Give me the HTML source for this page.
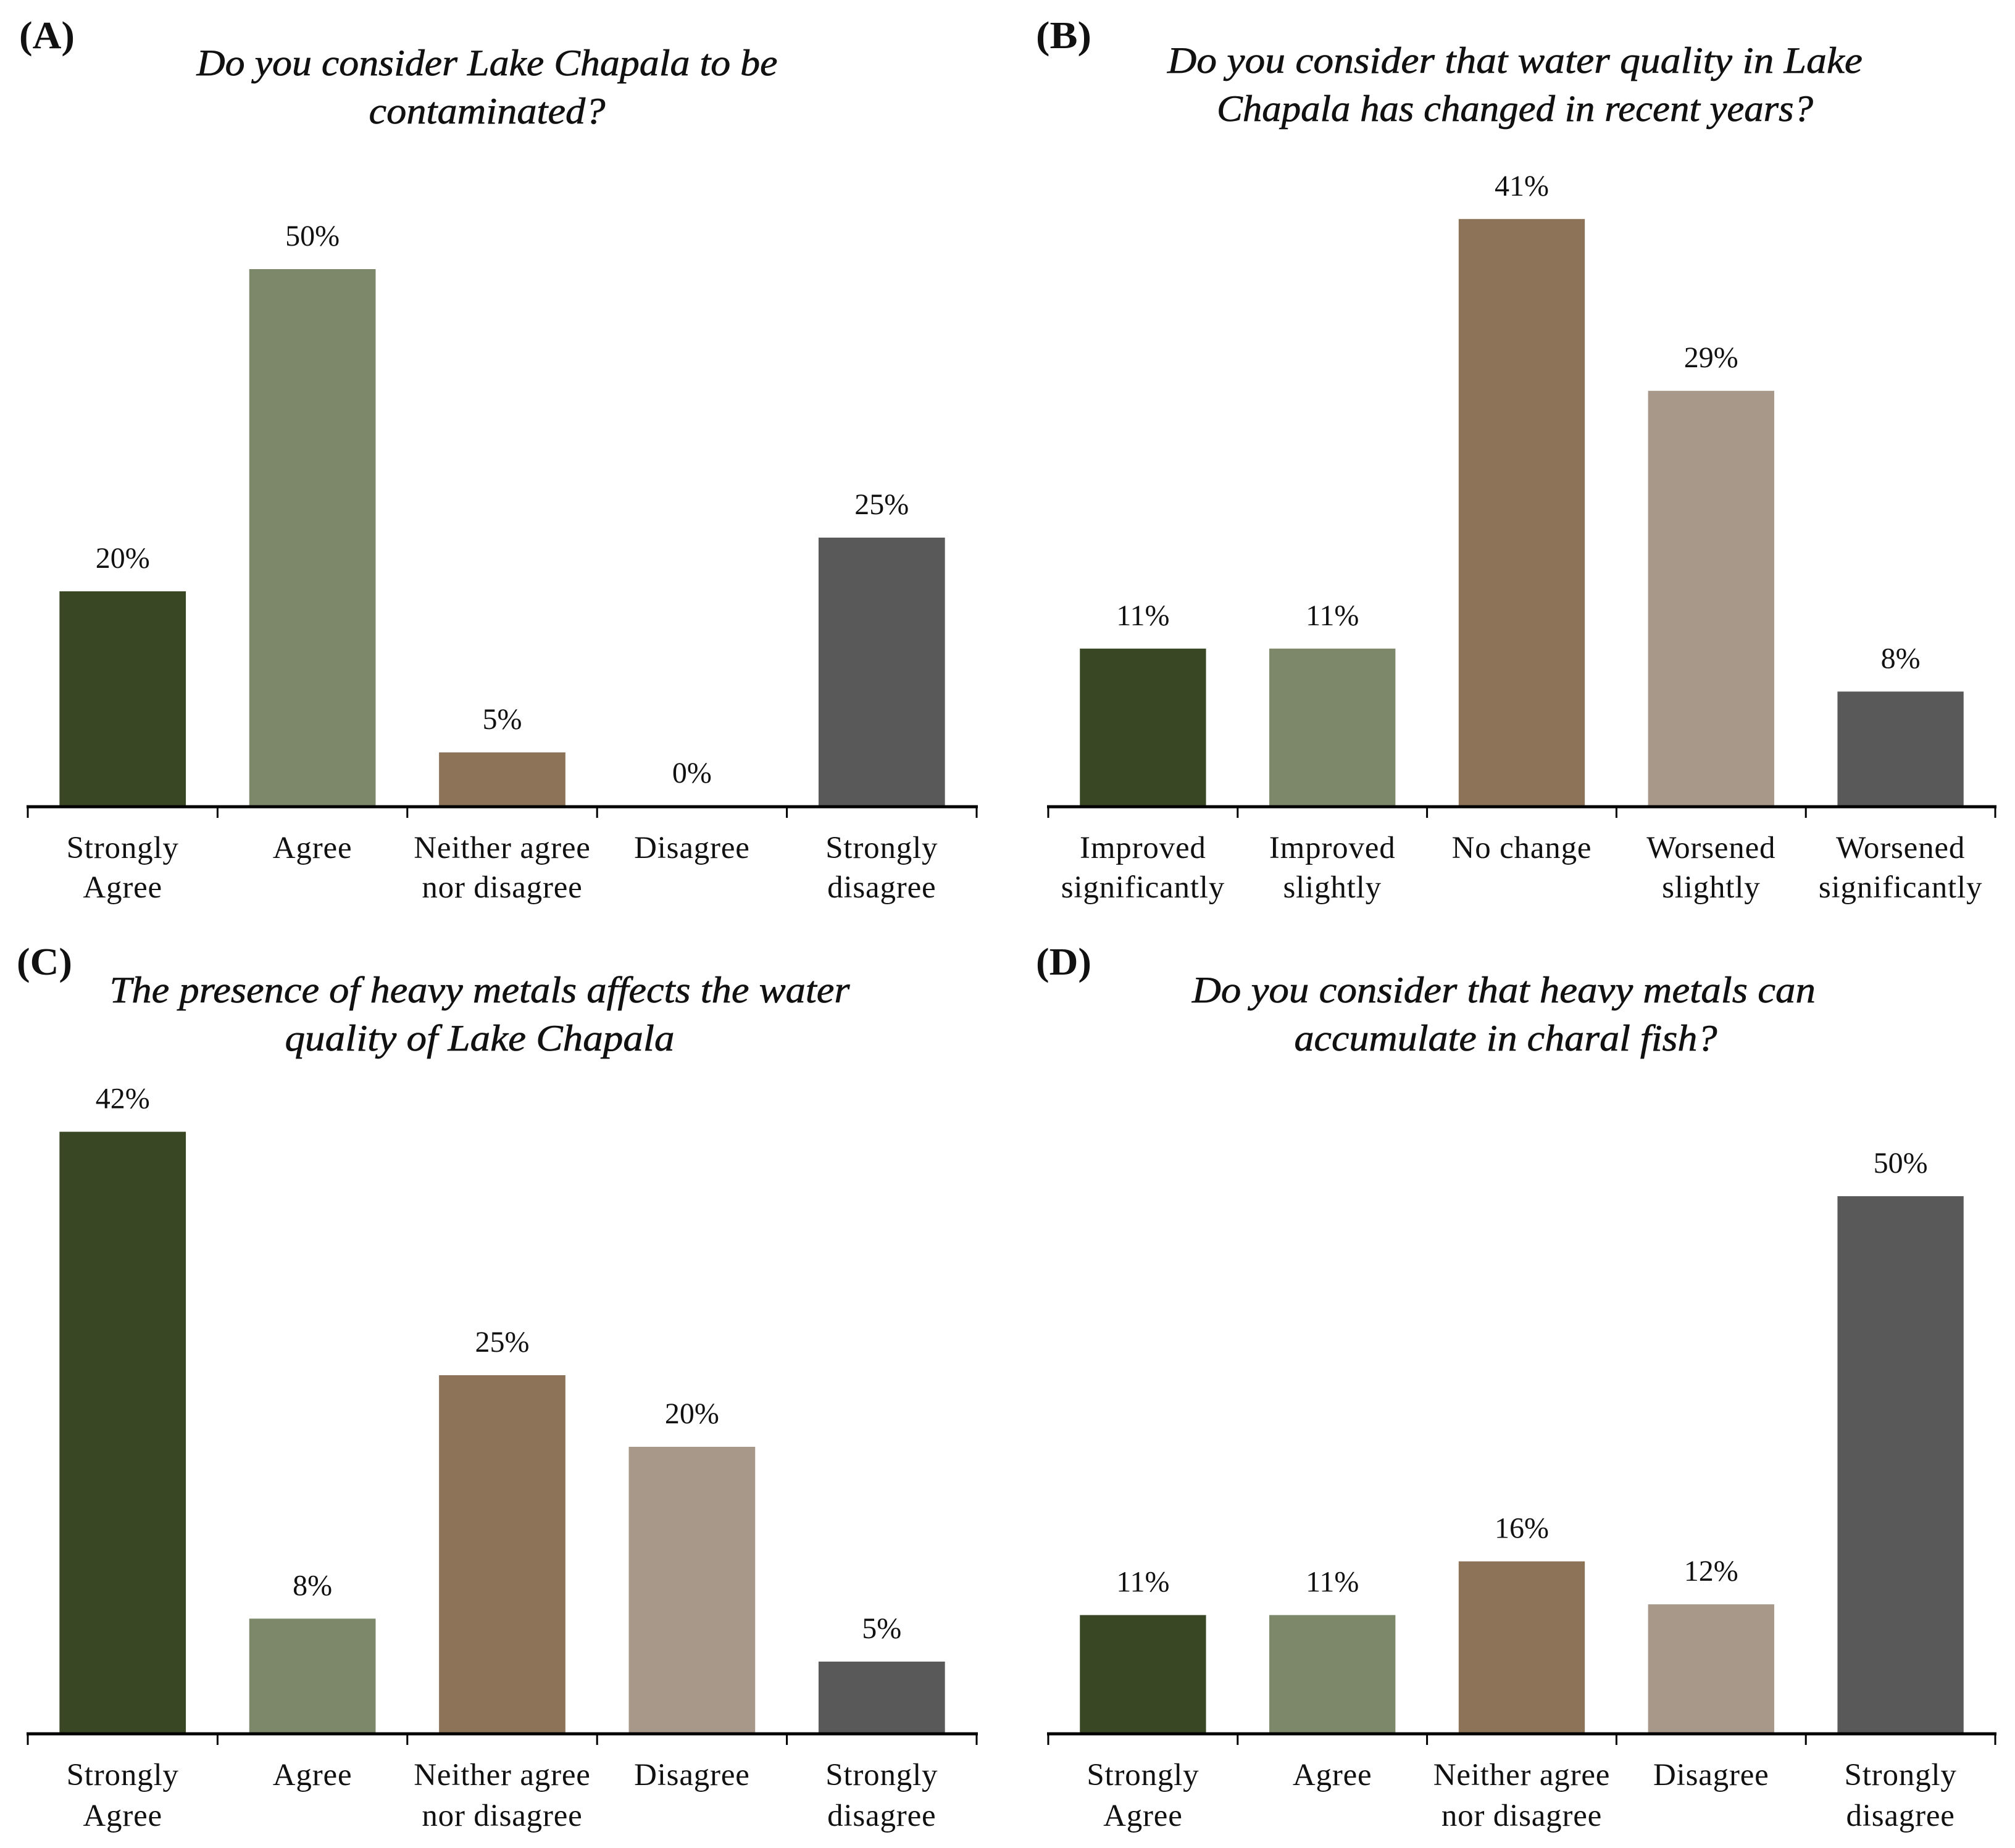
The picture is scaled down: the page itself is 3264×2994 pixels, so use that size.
<!DOCTYPE html>
<html lang="en">
<head>
<meta charset="utf-8">
<title>Lake Chapala survey charts</title>
<style>
html,body{margin:0;padding:0;background:#fff}
svg{display:block}
text{font-family:"Liberation Serif",serif;fill:#111}
.panel-tag{font-size:62px;font-weight:bold}
.chart-title{font-size:60px;font-style:italic;text-anchor:middle;stroke:#111;stroke-width:.7px}
.cat{font-size:51px;text-anchor:middle;letter-spacing:.8px}
.val{font-size:48px;text-anchor:middle}
</style>
</head>
<body>
<svg id="fig" xmlns="http://www.w3.org/2000/svg" width="3264" height="2994" viewBox="0 0 3264 2994">
<rect width="3264" height="2994" fill="#ffffff"/>

<g id="panel-a">
<text class="panel-tag" x="31" y="78" textLength="90" lengthAdjust="spacingAndGlyphs">(A)</text>
<text class="chart-title" x="789" y="122" textLength="941" lengthAdjust="spacingAndGlyphs">Do you consider Lake Chapala to be</text>
<text class="chart-title" x="789" y="200" textLength="383" lengthAdjust="spacingAndGlyphs">contaminated?</text>
</g>

<g id="panel-b">
<text class="panel-tag" x="1678" y="78" textLength="90" lengthAdjust="spacingAndGlyphs">(B)</text>
<text class="chart-title" x="2454" y="118" textLength="1126" lengthAdjust="spacingAndGlyphs">Do you consider that water quality in Lake</text>
<text class="chart-title" x="2454" y="196" textLength="966" lengthAdjust="spacingAndGlyphs">Chapala has changed in recent years?</text>
</g>

<g id="panel-c">
<text class="panel-tag" x="27" y="1579" textLength="90" lengthAdjust="spacingAndGlyphs">(C)</text>
<text class="chart-title" x="777" y="1624" textLength="1199" lengthAdjust="spacingAndGlyphs">The presence of heavy metals affects the water</text>
<text class="chart-title" x="777" y="1702" textLength="631" lengthAdjust="spacingAndGlyphs">quality of Lake Chapala</text>
</g>

<g id="panel-d">
<text class="panel-tag" x="1678" y="1579" textLength="90" lengthAdjust="spacingAndGlyphs">(D)</text>
<text class="chart-title" x="2436" y="1624" textLength="1010" lengthAdjust="spacingAndGlyphs">Do you consider that heavy metals can</text>
<text class="chart-title" x="2439" y="1702" textLength="685" lengthAdjust="spacingAndGlyphs">accumulate in charal fish?</text>
</g>
</svg>

<script>
// Chart data
const agreeCategories = ['Strongly\nAgree', 'Agree', 'Neither agree\nnor disagree', 'Disagree', 'Strongly\ndisagree'];
const changeCategories = ['Improved\nsignificantly', 'Improved\nslightly', 'No change', 'Worsened\nslightly', 'Worsened\nsignificantly'];
const valuesA = [20, 50, 5, 0, 25];
const valuesB = [11, 11, 41, 29, 8];
const valuesC = [42, 8, 25, 20, 5];
const valuesD = [11, 11, 16, 12, 50];
const barColors = ['#3a4724', '#7d8769', '#8d7459', '#a79889', '#595959'];

const SVGNS = 'http://www.w3.org/2000/svg';
const PLOT_HEIGHT = 1044;

function shape(tag, attrs, parent) {
  const el = document.createElementNS(SVGNS, tag);
  for (const k in attrs) el.setAttribute(k, attrs[k]);
  parent.appendChild(el);
  return el;
}

function drawChart(id, categories, values, yMax, left, right, baseline, lineGap) {
  const root = document.getElementById(id);
  const slot = (right - left) / categories.length;
  const barWidth = slot * 0.666;
  const xCenter = i => left + slot * (i + 0.5);
  const yPos = v => baseline - (v / yMax) * PLOT_HEIGHT;

  values.forEach((v, i) => {
    const top = yPos(v);
    const bar = shape('rect', {x: xCenter(i) - barWidth / 2, y: top, width: barWidth, height: baseline - top, fill: barColors[i % barColors.length]}, root);
    
    

    const label = shape('text', {class: 'val', x: xCenter(i), y: top - 38}, root);
    label.textContent = v + '%';
    
    

    categories[i].split('\n').forEach((line, n) => {
      const cat = shape('text', {class: 'cat', x: xCenter(i), y: baseline + 84 + n * lineGap}, root);
      cat.textContent = line;
      
      
    });
  });

  const axis = shape('line', {x1: left - 2, x2: right + 2, y1: baseline + 1, y2: baseline + 1, stroke: '#000', 'stroke-width': 5}, root);
  
  

  for (let i = 0; i <= categories.length; i++) {
    const tick = shape('line', {x1: left + slot * i, x2: left + slot * i, y1: baseline, y2: baseline + 19, stroke: '#000', 'stroke-width': 3}, root);
    
    
  }
}

drawChart('panel-a', agreeCategories, valuesA, 60, 45, 1582, 1306, 64);
drawChart('panel-b', changeCategories, valuesB, 45, 1698, 3232, 1306, 64);
drawChart('panel-c', agreeCategories, valuesC, 45, 45, 1582, 2808, 66);
drawChart('panel-d', agreeCategories, valuesD, 60, 1698, 3232, 2808, 66);
</script>
</body>
</html>
